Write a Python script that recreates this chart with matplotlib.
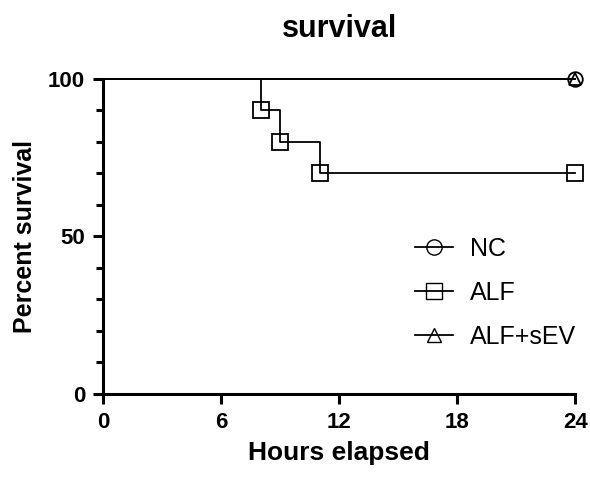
import matplotlib.pyplot as plt
from matplotlib.ticker import MultipleLocator

plt.rcParams['font.family'] = ['Liberation Sans', 'DejaVu Sans']

# survival data (hours, percent)
nc_t = [0, 24]
nc_s = [100, 100]
alf_t = [0, 8, 9, 11, 24]
alf_s = [100, 90, 80, 70, 70]
sev_t = [0, 24]
sev_s = [100, 100]

# points where markers are shown (drops + censoring at end)
nc_mt, nc_ms = [24], [100]
alf_mt, alf_ms = [8, 9, 11, 24], [90, 80, 70, 70]
sev_mt, sev_ms = [24], [100]

fig = plt.figure(figsize=(5.9, 4.78), dpi=100)
ax = fig.add_axes([0.175, 0.176, 0.80, 0.659])

lw = 1.3
mk = dict(markerfacecolor='none', markeredgecolor='black', markeredgewidth=1.3,
          clip_on=False, linestyle='none', zorder=4)

ax.step(nc_t, nc_s, where='post', color='black', lw=lw, clip_on=False)
ax.plot(nc_mt, nc_ms, marker='o', markersize=10.5, **mk)
ax.step(alf_t, alf_s, where='post', color='black', lw=lw, clip_on=False)
ax.plot(alf_mt, alf_ms, marker='s', markersize=12, **mk)
ax.step(sev_t, sev_s, where='post', color='black', lw=lw, clip_on=False)
ax.plot(sev_mt, sev_ms, marker='^', markersize=8, **mk)

# legend handles
ax.plot([], [], color='black', lw=lw, marker='o', markersize=11,
        markerfacecolor='none', markeredgecolor='black', label='NC')
ax.plot([], [], color='black', lw=lw, marker='s', markersize=11,
        markerfacecolor='none', markeredgecolor='black', label='ALF')
ax.plot([], [], color='black', lw=lw, marker='^', markersize=10,
        markerfacecolor='none', markeredgecolor='black', label='ALF+sEV')
ax.legend(loc='upper left', bbox_to_anchor=(0.613, 0.57), frameon=False,
          fontsize=18, handlelength=1.5, handletextpad=0.7, labelspacing=0.8)

ax.set_xlim(0, 24)
ax.set_ylim(0, 100)
ax.set_xticks([0, 6, 12, 18, 24])
ax.set_yticks([0, 50, 100])
ax.yaxis.set_minor_locator(MultipleLocator(10))

ax.spines['top'].set_visible(False)
ax.spines['right'].set_visible(False)
ax.spines['left'].set_linewidth(2.2)
ax.spines['bottom'].set_linewidth(2.2)
ax.tick_params(axis='both', which='major', width=2.2, length=7,
               labelsize=16, pad=6)
ax.tick_params(axis='y', which='minor', width=2.2, length=5)
for lab in ax.get_xticklabels() + ax.get_yticklabels():
    lab.set_fontweight('bold')

ax.set_xlabel('Hours elapsed', fontsize=19, fontweight='bold', labelpad=6)
ax.set_ylabel('Percent survival', fontsize=18, fontweight='bold', labelpad=8)
ax.set_title('survival', fontsize=22, fontweight='bold', pad=30)

fig.savefig('out.png', dpi=100)
